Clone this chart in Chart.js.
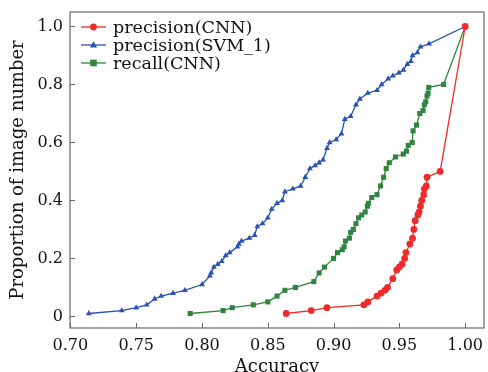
<!DOCTYPE html>
<html>
<head>
<meta charset="utf-8">
<script src="https://cdn.jsdelivr.net/npm/chart.js@4"></script>
<style>
  html, body { margin: 0; padding: 0; background: #fff; }
  #wrap { width: 488px; height: 372px; }
</style>
</head>
<body>
<div id="wrap"><canvas id="rocChart" width="488" height="372"></canvas></div>
<script>
const xTicks = [0.70, 0.75, 0.80, 0.85, 0.90, 0.95, 1.00];
const yTicks = [0, 0.2, 0.4, 0.6, 0.8, 1.0];

const cnnPrecX = [0.864, 0.883, 0.895, 0.923, 0.926, 0.933, 0.936, 0.939, 0.941, 0.945, 0.948, 0.950, 0.952, 0.954, 0.955, 0.958, 0.960, 0.961, 0.962, 0.964, 0.965, 0.966, 0.967, 0.9685, 0.969, 0.9705, 0.971, 0.981, 1.0];
const cnnPrecY = [0.01, 0.02, 0.03, 0.04, 0.05, 0.07, 0.08, 0.09, 0.10, 0.13, 0.16, 0.17, 0.18, 0.20, 0.22, 0.25, 0.27, 0.30, 0.33, 0.35, 0.36, 0.38, 0.40, 0.42, 0.44, 0.45, 0.48, 0.50, 1.0];

const svmPrecX = [0.714, 0.739, 0.750, 0.758, 0.764, 0.769, 0.778, 0.787, 0.800, 0.806, 0.807, 0.809, 0.812, 0.815, 0.818, 0.821, 0.827, 0.828, 0.830, 0.836, 0.840, 0.842, 0.846, 0.850, 0.853, 0.857, 0.861, 0.863, 0.869, 0.875, 0.8785, 0.882, 0.886, 0.889, 0.892, 0.895, 0.897, 0.902, 0.906, 0.9085, 0.913, 0.917, 0.920, 0.926, 0.933, 0.9365, 0.9415, 0.945, 0.9496, 0.953, 0.956, 0.9587, 0.960, 0.9637, 0.966, 0.9725, 1.0];
const svmPrecY = [0.01, 0.02, 0.03, 0.04, 0.06, 0.07, 0.08, 0.09, 0.11, 0.14, 0.15, 0.17, 0.18, 0.19, 0.21, 0.22, 0.24, 0.25, 0.26, 0.27, 0.28, 0.31, 0.32, 0.34, 0.37, 0.39, 0.40, 0.43, 0.44, 0.45, 0.48, 0.51, 0.52, 0.53, 0.54, 0.58, 0.60, 0.61, 0.63, 0.68, 0.69, 0.73, 0.75, 0.77, 0.78, 0.80, 0.82, 0.83, 0.84, 0.85, 0.87, 0.88, 0.90, 0.91, 0.93, 0.94, 1.0];

const cnnRecX = [0.791, 0.816, 0.823, 0.839, 0.850, 0.857, 0.863, 0.871, 0.885, 0.889, 0.893, 0.900, 0.903, 0.9066, 0.908, 0.909, 0.912, 0.913, 0.915, 0.917, 0.919, 0.9214, 0.924, 0.9257, 0.9264, 0.929, 0.933, 0.9357, 0.938, 0.940, 0.9423, 0.947, 0.953, 0.9554, 0.9567, 0.9597, 0.9604, 0.963, 0.9655, 0.968, 0.969, 0.970, 0.971, 0.9718, 0.9723, 0.9836, 1.0];
const cnnRecY = [0.01, 0.02, 0.03, 0.04, 0.05, 0.07, 0.09, 0.10, 0.12, 0.15, 0.17, 0.20, 0.22, 0.23, 0.24, 0.26, 0.27, 0.29, 0.30, 0.32, 0.34, 0.35, 0.36, 0.38, 0.39, 0.41, 0.42, 0.45, 0.48, 0.51, 0.53, 0.55, 0.56, 0.57, 0.59, 0.60, 0.64, 0.66, 0.70, 0.71, 0.73, 0.74, 0.76, 0.77, 0.79, 0.80, 1.0];

const seriesNames = ["precision(CNN)", "precision(SVM_1)", "recall(CNN)"];
const seriesColors = ["#ee2b2b", "#2a52b2", "#2f8440"];
const seriesMarkers = ["circle", "triangle", "rect"];

const serif = "'DejaVu Serif', 'Liberation Serif', serif";
const frameColor = "#6a6a6a";

function toPoints(xs, ys) {
  return xs.map((x, i) => ({ x: x, y: ys[i] }));
}

function makeDataset(idx, xs, ys) {
  return {
    label: seriesNames[idx],
    data: toPoints(xs, ys),
    borderColor: seriesColors[idx],
    backgroundColor: seriesColors[idx],
    borderWidth: 1.3,
    pointStyle: seriesMarkers[idx],
    pointRadius: idx === 2 ? 3.6 : 3.4,
    pointBorderWidth: 0,
    tension: 0,
    showLine: true,
  };
}

// frame, inward ticks and legend box like matplotlib
const framePlugin = {
  id: "frame",
  afterDraw(chart) {
    const { ctx, chartArea: a, scales } = chart;
    ctx.save();
    ctx.strokeStyle = frameColor;
    ctx.lineWidth = 1.2;
    ctx.strokeRect(a.left, a.top, a.right - a.left, a.bottom - a.top);

    ctx.lineWidth = 1;
    ctx.beginPath();
    xTicks.forEach((v) => {
      const px = Math.round(scales.x.getPixelForValue(v)) + 0.5;
      ctx.moveTo(px, a.bottom);
      ctx.lineTo(px, a.bottom - 5);
    });
    yTicks.forEach((v) => {
      const py = Math.round(scales.y.getPixelForValue(v)) + 0.5;
      ctx.moveTo(a.left, py);
      ctx.lineTo(a.left + 5, py);
    });
    ctx.stroke();

    // legend
    ctx.font = "17.5px " + serif;
    ctx.textBaseline = "middle";
    seriesNames.forEach((name, i) => {
      const y = a.top + 15 + i * 18;
      const x0 = a.left + 11;
      ctx.strokeStyle = seriesColors[i];
      ctx.fillStyle = seriesColors[i];
      ctx.lineWidth = 1.3;
      ctx.beginPath();
      ctx.moveTo(x0, y);
      ctx.lineTo(x0 + 25, y);
      ctx.stroke();
      const mx = x0 + 12.5;
      ctx.beginPath();
      if (i === 0) {
        ctx.arc(mx, y, 3.4, 0, Math.PI * 2);
      } else if (i === 1) {
        ctx.moveTo(mx, y - 3.8);
        ctx.lineTo(mx + 3.6, y + 2.4);
        ctx.lineTo(mx - 3.6, y + 2.4);
        ctx.closePath();
      } else {
        ctx.rect(mx - 3.3, y - 3.3, 6.6, 6.6);
      }
      ctx.fill();
      ctx.fillStyle = "#111";
      ctx.fillText(name, x0 + 32, y + 1);
    });
    ctx.restore();
  },
};

const chartElement = document.getElementById("rocChart").getContext("2d");

const rocChart = new Chart(chartElement, {
  type: "line",
  data: {
    datasets: [
      makeDataset(0, cnnPrecX, cnnPrecY),
      makeDataset(1, svmPrecX, svmPrecY),
      makeDataset(2, cnnRecX, cnnRecY),
    ],
  },
  options: {
    responsive: false,
    animation: false,
    layout: { padding: { top: 12, right: -2, left: 0, bottom: 0 } },
    plugins: {
      legend: { display: false },
      tooltip: { enabled: false },
    },
    scales: {
      x: {
        type: "linear",
        min: 0.6997,
        max: 1.0143,
        afterBuildTicks: (scale) => {
          scale.ticks = xTicks.map((v) => ({ value: v }));
        },
        afterFit: (scale) => {
          scale.height = 44;
          scale.paddingLeft = 0;
          scale.paddingRight = 0;
        },
        grid: { display: false, drawTicks: false },
        border: { display: false },
        ticks: {
          padding: 8,
          color: "#111",
          font: { family: serif, size: 16 },
          maxRotation: 0,
          callback: (v) => Number(v).toFixed(2),
        },
        title: {
          display: true,
          text: "Accuracy",
          color: "#111",
          font: { family: serif, size: 18 },
          padding: { top: 0, bottom: -6 },
        },
      },
      y: {
        type: "linear",
        min: -0.04,
        max: 1.05,
        afterBuildTicks: (scale) => {
          scale.ticks = yTicks.map((v) => ({ value: v }));
        },
        afterFit: (scale) => {
          scale.width = 70;
          scale.paddingTop = 0;
          scale.paddingBottom = 0;
        },
        grid: { display: false, drawTicks: false },
        border: { display: false },
        ticks: {
          padding: 7,
          color: "#111",
          font: { family: serif, size: 16 },
          callback: (v) => (v === 0 ? "0" : Number(v).toFixed(1)),
        },
        title: {
          display: true,
          text: "Proportion of image number",
          color: "#111",
          font: { family: serif, size: 18 },
          padding: { top: 8, bottom: 0 },
        },
      },
    },
  },
  plugins: [framePlugin],
});
</script>
</body>
</html>
